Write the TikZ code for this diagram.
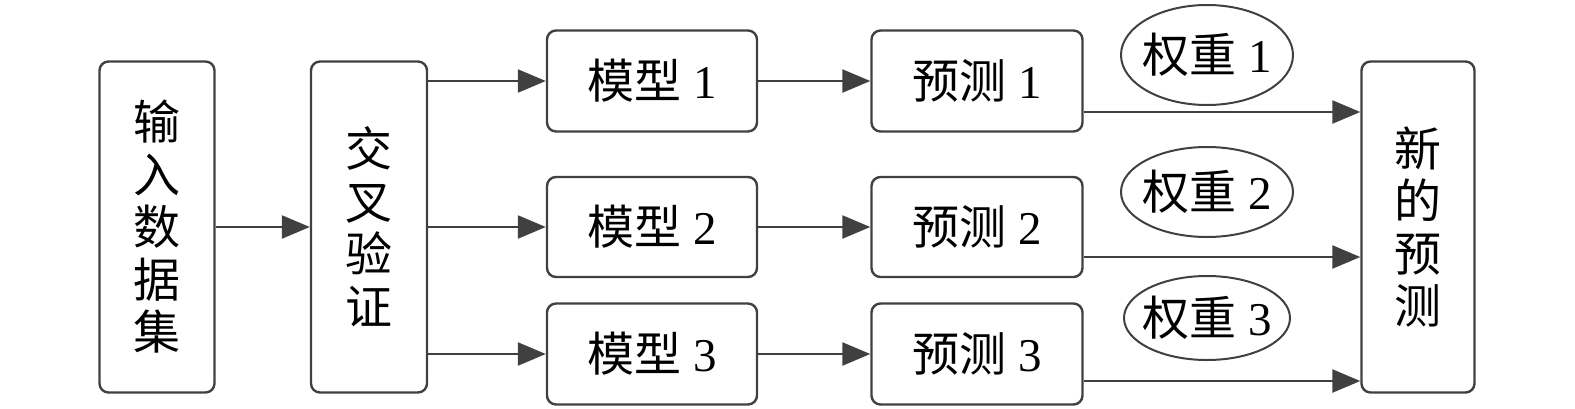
\documentclass[tikz,border=0pt]{standalone}
\usepackage{fontspec}
\setmainfont{Liberation Serif}
\newfontfamily\cjk{Noto Sans CJK SC}
\usetikzlibrary{shapes.geometric,arrows.meta}
\definecolor{linegray}{HTML}{404040}
\tikzset{
  box/.style={draw=linegray, line width=2.4pt, rounded corners=9pt, inner sep=0pt, align=center,
    font=\fontsize{47}{52.5}\selectfont},
  wgt/.style={draw=linegray, ellipse, line width=2pt, inner sep=-30pt, minimum width=172pt,
    font=\fontsize{47}{50}\selectfont},
  arr/.style={draw=linegray, line width=2.4pt, -{Triangle[length=28pt,width=23pt]}},
}
\begin{document}
\begin{tikzpicture}[x=1pt,y=-1pt]
\useasboundingbox (0,0) rectangle (1575,408);
\node[box, minimum width=115pt, minimum height=331pt] (inp) at (157,227) {\cjk 输\\\cjk 入\\\cjk 数\\\cjk 据\\\cjk 集};
\node[box, minimum width=116pt, minimum height=331pt] (cv) at (369,227) {\cjk 交\\\cjk 叉\\\cjk 验\\\cjk 证};
\node[box, minimum width=113pt, minimum height=331pt] (np) at (1418,227) {\cjk 新\\\cjk 的\\\cjk 预\\\cjk 测};
\node[box, minimum width=210pt, minimum height=101pt] (m1) at (652,81) {{\cjk 模型} 1};
\node[box, minimum width=210pt, minimum height=100pt] (m2) at (652,227) {{\cjk 模型} 2};
\node[box, minimum width=210pt, minimum height=101pt] (m3) at (652,354) {{\cjk 模型} 3};
\node[box, minimum width=211pt, minimum height=101pt] (p1) at (977,81) {{\cjk 预测} 1};
\node[box, minimum width=211pt, minimum height=100pt] (p2) at (977,227) {{\cjk 预测} 2};
\node[box, minimum width=211pt, minimum height=101pt] (p3) at (977,354) {{\cjk 预测} 3};
\node[wgt, minimum height=100pt] (w1) at (1207,55) {{\cjk 权重} 1};
\node[wgt, minimum height=90pt] (w2) at (1207,192) {{\cjk 权重} 2};
\node[wgt, minimum height=84pt, minimum width=166pt] (w3) at (1207,318) {{\cjk 权重} 3};
\draw[arr] (inp.east) -- (cv.west);
\draw[arr] (cv.east |- m1.west) -- (m1.west);
\draw[arr] (cv.east |- m2.west) -- (m2.west);
\draw[arr] (cv.east |- m3.west) -- (m3.west);
\draw[arr] (m1.east) -- (p1.west);
\draw[arr] (m2.east) -- (p2.west);
\draw[arr] (m3.east) -- (p3.west);
\draw[arr] ([yshift=-31pt]p1.east) -- ([yshift=-31pt]p1.east -| np.west);
\draw[arr] ([yshift=-30pt]p2.east) -- ([yshift=-30pt]p2.east -| np.west);
\draw[arr] ([yshift=-27pt]p3.east) -- ([yshift=-27pt]p3.east -| np.west);
\end{tikzpicture}
\end{document}
